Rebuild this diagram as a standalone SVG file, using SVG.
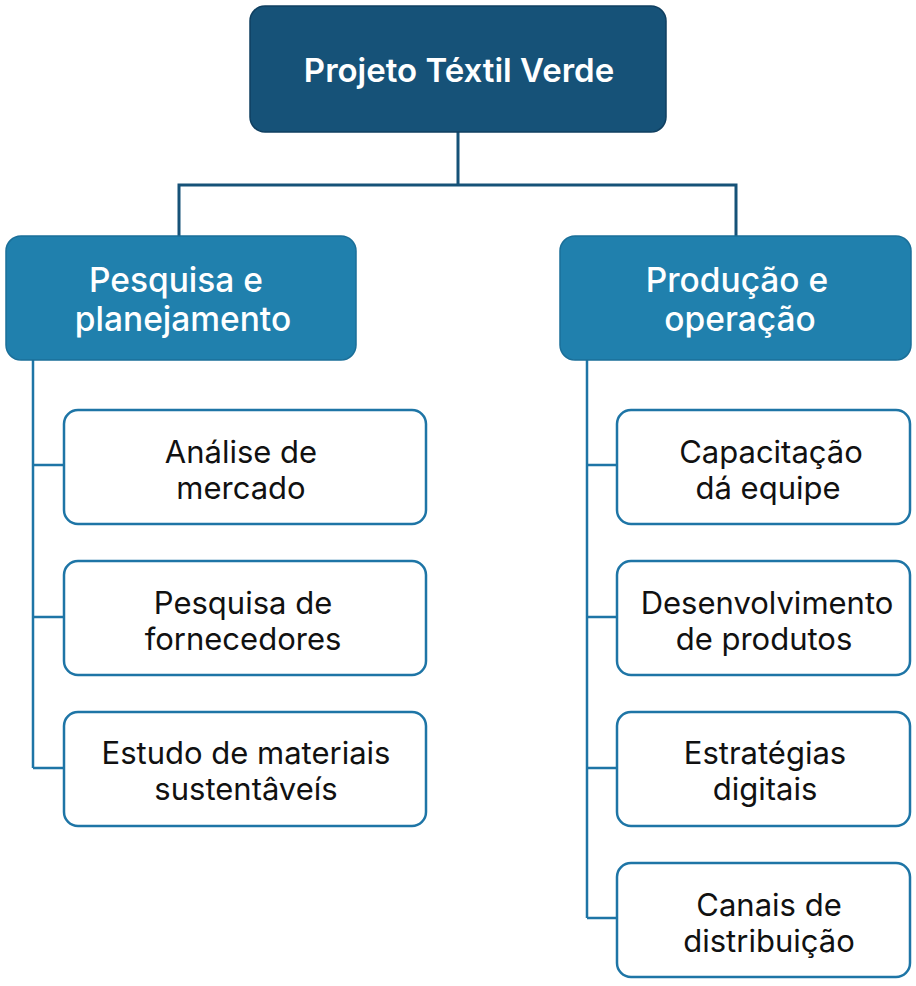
<svg xmlns="http://www.w3.org/2000/svg" width="916" height="986" viewBox="0 0 916 986">
<style>
.root{fill:#165278;stroke:#0f3f60;stroke-width:1.5}
.mid{fill:#2080ad;stroke:#1a6f99;stroke-width:1.5}
.leaf{fill:#ffffff;stroke:#1e75a6;stroke-width:2.5}
.t{font-family:Inter,"Noto Sans","Liberation Sans",sans-serif;text-anchor:middle}
.tr{font-size:33px;font-weight:600;fill:#ffffff}
.tm{font-size:33.5px;font-weight:500;fill:#ffffff}
.tl{font-size:31px;font-weight:400;fill:#111111}
.c1{fill:none;stroke:#165278;stroke-width:3}
.c2{fill:none;stroke:#1e75a6;stroke-width:2.5}
</style>
<g id="connectors">
<path class="c1" d="M458 132V185M179 236V185H736V236"/>
<path class="c2" d="M33 360V768M33 465H64M33 617H64M33 768H64"/>
<path class="c2" d="M587 360V918M587 465H617M587 617H617M587 768H617M587 918H617"/>
</g>
<g id="root">
<rect class="root" x="250" y="6" width="416" height="126" rx="15"/>
<text class="t tr" x="459" y="82">Projeto Téxtil Verde</text>
</g>
<g id="pesquisa">
<rect class="mid" x="6" y="236" width="350" height="124" rx="15"/>
<text class="t tm" x="176" y="292">Pesquisa e</text>
<text class="t tm" x="183" y="331">planejamento</text>
</g>
<g id="producao">
<rect class="mid" x="560" y="236" width="351" height="124" rx="15"/>
<text class="t tm" x="737" y="292">Produção e</text>
<text class="t tm" x="740" y="331">operação</text>
</g>
<g id="analise">
<rect class="leaf" x="64" y="410" width="362" height="114" rx="14"/>
<text class="t tl" x="241" y="463">Análise de</text>
<text class="t tl" x="241" y="499">mercado</text>
</g>
<g id="fornecedores">
<rect class="leaf" x="64" y="561" width="362" height="114" rx="14"/>
<text class="t tl" x="243" y="614">Pesquisa de</text>
<text class="t tl" x="243" y="650">fornecedores</text>
</g>
<g id="materiais">
<rect class="leaf" x="64" y="712" width="362" height="114" rx="14"/>
<text class="t tl" x="246" y="764">Estudo de materiais</text>
<text class="t tl" x="246" y="800">sustentâveís</text>
</g>
<g id="capacitacao">
<rect class="leaf" x="617" y="410" width="293" height="114" rx="14"/>
<text class="t tl" x="771" y="463">Capacitação</text>
<text class="t tl" x="768" y="499">dá equipe</text>
</g>
<g id="desenvolvimento">
<rect class="leaf" x="617" y="561" width="293" height="114" rx="14"/>
<text class="t tl" x="767" y="614">Desenvolvimento</text>
<text class="t tl" x="764" y="650">de produtos</text>
</g>
<g id="estrategias">
<rect class="leaf" x="617" y="712" width="293" height="114" rx="14"/>
<text class="t tl" x="765" y="764">Estratégias</text>
<text class="t tl" x="765" y="800">digitais</text>
</g>
<g id="canais">
<rect class="leaf" x="617" y="863" width="293" height="114" rx="14"/>
<text class="t tl" x="769" y="916">Canais de</text>
<text class="t tl" x="769" y="952">distribuição</text>
</g>
</svg>
